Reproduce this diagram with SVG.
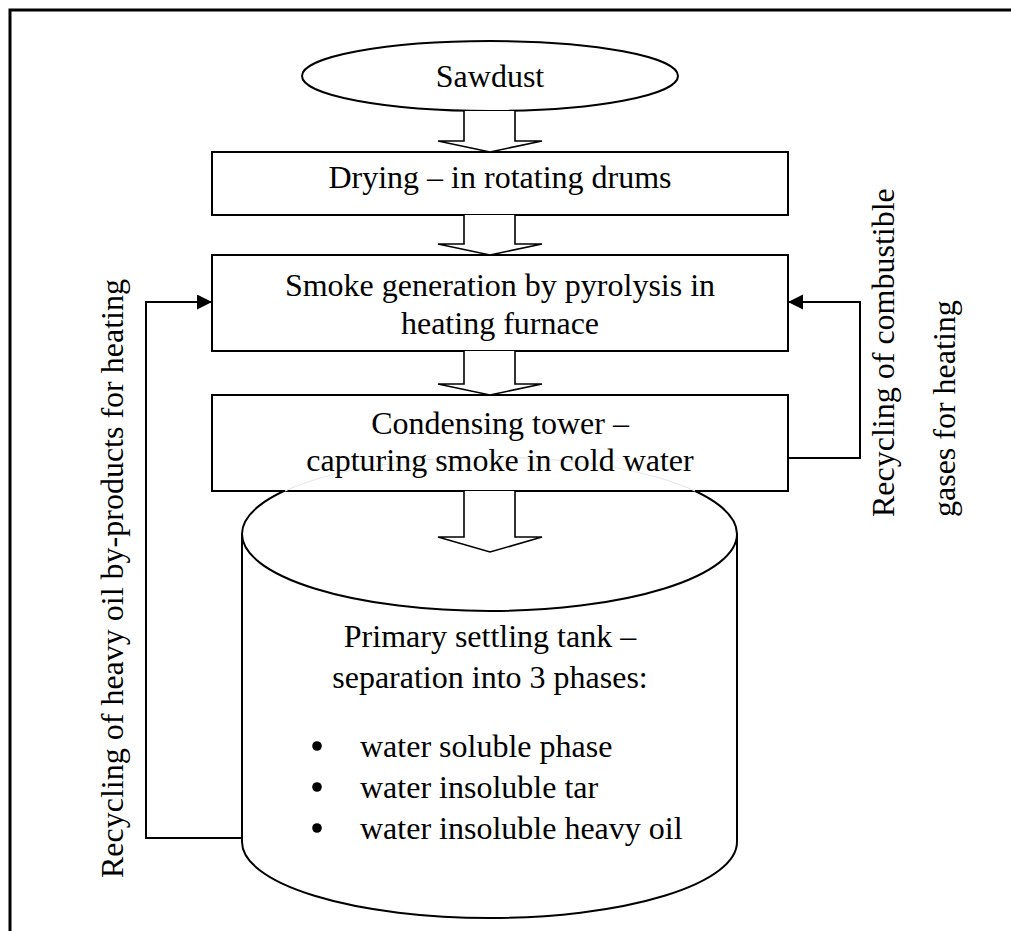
<svg xmlns="http://www.w3.org/2000/svg" width="1011" height="931" viewBox="0 0 1011 931">
  <style>
    text { font-family: 'Liberation Serif', Tinos, 'Times New Roman', Times, 'DejaVu Serif', serif; font-size: 32px; fill: #000; }
    .c { text-anchor: middle; }
    .box { fill: #fff; stroke: #000; stroke-width: 2; }
    .blk { fill: #fff; stroke: #000; stroke-width: 1.6; stroke-linejoin: miter; }
    .ln { fill: none; stroke: #000; stroke-width: 2; }
  </style>
  <defs>
    <marker id="ah" markerWidth="16" markerHeight="16" refX="15" refY="7.5" orient="auto" markerUnits="userSpaceOnUse">
      <path d="M0,0 L15,7.5 L0,15 Z" fill="#000"/>
    </marker>
  </defs>
  <rect width="1011" height="931" fill="#fff"/>
  <g id="frame">
    <path d="M10,931 L10,10 L1011,10" fill="none" stroke="#000" stroke-width="3"/>
  </g>

  <g id="tank">
    <path class="box" d="M242,534 L242,842 A247.5,76 0 0 0 737,842 L737,534 Z"/>
    <ellipse class="box" cx="489.5" cy="534" rx="247.5" ry="77"/>
  </g>

  <g id="sawdust">
    <ellipse class="box" cx="490" cy="76" rx="188" ry="35"/>
    <text class="c" x="490" y="87" font-family="Liberation Serif, serif">Sawdust</text>
  </g>

  <g id="drying">
    <rect class="box" x="212" y="152" width="576" height="63"/>
    <text class="c" x="500" y="188" font-family="Liberation Serif, serif">Drying – in rotating drums</text>
  </g>

  <g id="smoke">
    <rect class="box" x="212" y="255" width="576" height="96"/>
    <text class="c" x="500" y="296" font-family="Liberation Serif, serif">Smoke generation by pyrolysis in</text>
    <text class="c" x="500" y="334" font-family="Liberation Serif, serif">heating furnace</text>
  </g>

  <g id="condensing">
    <rect class="box" x="212" y="395" width="576" height="96"/>
    <path d="M285,491 A247.5,77 0 0 1 695,491" fill="none" stroke="#e6e6e6" stroke-width="1.2"/>
    <text class="c" x="500" y="434" font-family="Liberation Serif, serif">Condensing tower –</text>
    <text class="c" x="500" y="471" font-family="Liberation Serif, serif">capturing smoke in cold water</text>
  </g>

  <g id="tank-text">
    <text class="c" x="490" y="647" font-family="Liberation Serif, serif">Primary settling tank –</text>
    <text class="c" x="490" y="688" font-family="Liberation Serif, serif">separation into 3 phases:</text>
    <circle cx="317" cy="746" r="4.8" fill="#000"/>
    <text x="360" y="757" font-family="Liberation Serif, serif">water soluble phase</text>
    <circle cx="317" cy="787" r="4.8" fill="#000"/>
    <text x="360" y="798" font-family="Liberation Serif, serif">water insoluble tar</text>
    <circle cx="317" cy="828" r="4.8" fill="#000"/>
    <text x="360" y="839" font-family="Liberation Serif, serif">water insoluble heavy oil</text>
  </g>

  <g id="connectors">
    <path class="blk" d="M464,111 L464,141 L438,141 L490,152 L542,141 L515,141 L515,111"/>
    <path class="blk" d="M464,215 L464,244 L438,244 L490,255 L542,244 L515,244 L515,215"/>
    <path class="blk" d="M464,351 L464,384 L438,384 L490,395 L542,384 L515,384 L515,351"/>
    <path class="blk" d="M464,491 L464,537 L438,537 L490,552 L542,537 L515,537 L515,491"/>
    <path class="ln" d="M242,838 L146,838 L146,302 L212,302" marker-end="url(#ah)"/>
    <path class="ln" d="M788,458 L860,458 L860,302 L788,302" marker-end="url(#ah)"/>
  </g>

  <g id="labels">
    <text class="c" transform="translate(123,578.5) rotate(-90)" font-family="Liberation Serif, serif">Recycling of heavy oil by-products for heating</text>
    <text transform="translate(894,517) rotate(-90)" font-family="Liberation Serif, serif">Recycling of combustible</text>
    <text transform="translate(955,517) rotate(-90)" font-family="Liberation Serif, serif">gases for heating</text>
  </g>
</svg>
